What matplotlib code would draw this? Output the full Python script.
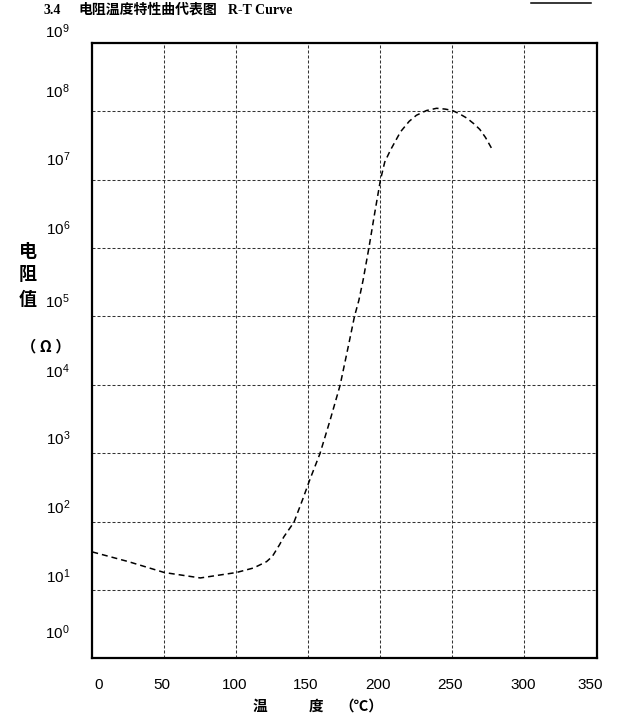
import numpy as np
import matplotlib
matplotlib.use("Agg")
import matplotlib.pyplot as plt
import matplotlib.transforms as mtransforms
from matplotlib.lines import Line2D

plt.rcParams['mathtext.fontset'] = 'custom'
plt.rcParams['mathtext.rm'] = 'Liberation Sans'
plt.rcParams['font.family'] = ['Liberation Sans', 'DejaVu Sans']

#------------------------------------------------------
# R-T curve (temperature in C, resistance in ohm)
temp = [0, 25, 50, 75, 100, 112, 121, 125, 130, 133, 140, 146, 151, 158,
        165, 172, 178, 182, 185, 188, 192, 196, 200, 203, 207, 214, 220,
        225, 232, 239, 245, 250, 255, 260, 265, 269, 273, 277]
res = [36, 26, 18, 15, 18, 21, 26, 31, 46, 60, 98, 210, 410, 980,
       3.0e3, 9.8e3, 3.9e4, 1.0e5, 1.7e5, 3.4e5, 1.0e6, 3.2e6, 9.8e6, 1.8e7,
       2.7e7, 5.0e7, 7.1e7, 8.7e7, 1.02e8, 1.10e8, 1.07e8, 1.02e8, 9.1e7,
       7.9e7, 6.5e7, 5.4e7, 4.1e7, 2.9e7]

xticks = [0, 50, 100, 150, 200, 250, 300, 350]
ydecades = list(range(0, 10))

title_num = "3.4"
title_cn = "电阻温度特性曲代表图"
title_en = "R-T Curve"
ylabel_chars = ["电", "阻", "值"]
ylabel_unit = "（ Ω ）"
xlabel_parts = ["温", "度", "（℃）"]

W, H = 618, 719
fig = plt.figure(figsize=(W / 100, H / 100), dpi=100)

def fx(px):
    return px / W

def fy(py):
    return 1 - py / H

ax = fig.add_axes([fx(92.3), fy(658.4), fx(596.5) - fx(92.3), fy(42.7) - fy(658.4)])
ax.set_yscale('log')
ax.set_xlim(0, 350)
ax.set_ylim(1, 1e9)

# curve
ax.plot(temp, res, color='black', lw=1.1, linestyle=(0, (3.9, 2.6)))

# grid
ax.set_xticks(xticks)
ax.set_yticks([10.0 ** d for d in ydecades])
ax.minorticks_off()
ax.grid(True, color='#333333', lw=0.75, linestyle=(0, (2.9, 1.9)))
ax.tick_params(length=0)
for s in ax.spines.values():
    s.set_linewidth(1.6)
    s.set_color('black')

ax.set_xticklabels([str(t) for t in xticks], fontsize=11)
ax.set_yticklabels([r'$\mathregular{10^{%d}}$' % d for d in ydecades], fontsize=11)
ax.tick_params(axis='x', pad=14)
ax.tick_params(axis='y', pad=16)

# labels in the original sit a bit off their gridlines
y_shift_px = [27, 15, 15, 15.5, 15, 16.5, 21, 21, 20.5, 13]
x_shift_px = [6.5, -2, -2, -2.5, -2, -2, -1.5, -6]
for lab, dy in zip(ax.get_yticklabels(), y_shift_px):
    lab.set_transform(lab.get_transform() +
                      mtransforms.ScaledTranslation(0, dy / 100, fig.dpi_scale_trans))
for lab, dx in zip(ax.get_xticklabels(), x_shift_px):
    lab.set_transform(lab.get_transform() +
                      mtransforms.ScaledTranslation(dx / 100, 0, fig.dpi_scale_trans))

# title
fig.text(fx(44), fy(10), title_num, family='Liberation Serif', weight='bold',
         fontsize=10, va='center', ha='left')
fig.text(fx(78), fy(10), title_cn, family='Noto Sans CJK SC', weight='bold',
         fontsize=10, va='center', ha='left')
fig.text(fx(228), fy(10), title_en, family='Liberation Serif', weight='bold',
         fontsize=10, va='center', ha='left')
fig.add_artist(Line2D([fx(531), fx(591)], [fy(3.3), fy(3.3)], color='black',
                      lw=1.1, transform=fig.transFigure))

# y label
for ch, py in zip(ylabel_chars, [251.7, 275, 299.3]):
    fig.text(fx(28), fy(py), ch, family='Noto Sans CJK SC', weight='bold',
             fontsize=13, va='center', ha='center')
fig.text(fx(46), fy(346.7), ylabel_unit, family='Noto Sans CJK SC', weight='bold',
         fontsize=11, va='center', ha='center')

# x label
for txt, px in zip(xlabel_parts, [260, 315.5, 361]):
    fig.text(fx(px), fy(706), txt, family='Noto Sans CJK SC', weight='bold',
             fontsize=10.5, va='center', ha='center')

fig.savefig("out.png", dpi=100)
